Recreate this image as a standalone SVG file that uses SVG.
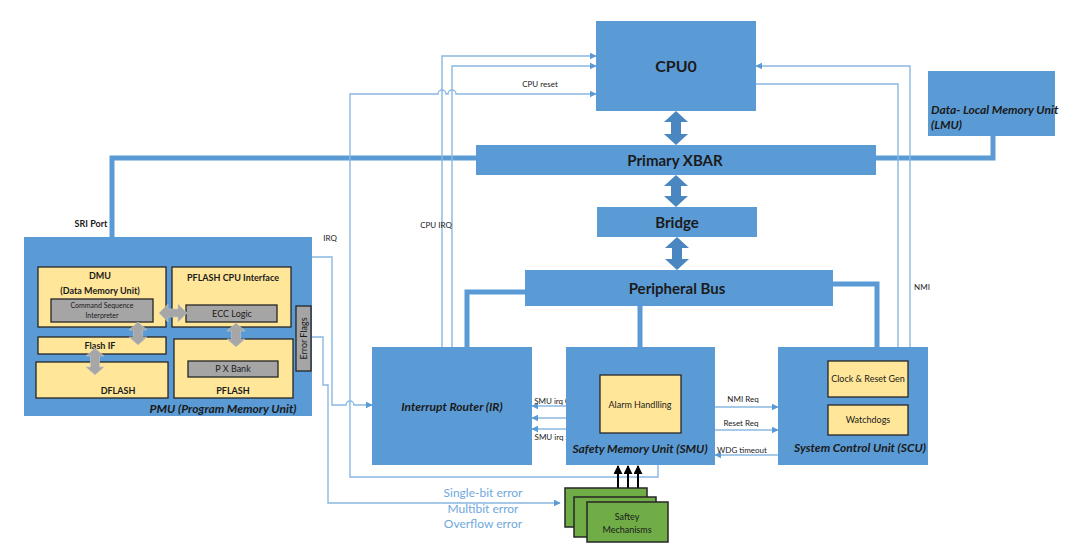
<svg xmlns="http://www.w3.org/2000/svg" width="1080" height="557" viewBox="0 0 1080 557">
  <defs>
    <marker id="ah" viewBox="0 0 10 10" refX="9" refY="5" markerWidth="7" markerHeight="7" orient="auto" markerUnits="userSpaceOnUse">
      <path d="M0,0 L10,5 L0,10 Z" fill="#5b9bd5"/>
    </marker>
    <marker id="ahk" viewBox="0 0 10 10" refX="9" refY="5" markerWidth="9" markerHeight="9" orient="auto" markerUnits="userSpaceOnUse">
      <path d="M0,0 L10,5 L0,10 Z" fill="#000"/>
    </marker>
  </defs>
  <style>
    .blk { fill: #5b9bd5; }
    .bus { fill: none; stroke: #5b9bd5; stroke-width: 5; }
    .sig { fill: none; stroke: #8ab8e2; stroke-width: 1.4; }
    .sigA { fill: none; stroke: #8ab8e2; stroke-width: 1.4; marker-end: url(#ah); }
    .dbl { fill: #4a86c0; }
    .gdbl { fill: #a6a6a6; stroke: #c8c8c8; stroke-width: 0.6; }
    .yel { fill: #ffe699; stroke: #262626; stroke-width: 1.3; }
    .gry { fill: #a5a5a5; stroke: #262626; stroke-width: 1.3; }
    .grn { fill: #70ad47; stroke: #262626; stroke-width: 1.5; }
    text { font-family: Lato, "Liberation Sans", sans-serif; fill: #1a1a1a; text-anchor: middle; }
    .big { font-size: 16px; font-weight: bold; }
    .mid { font-size: 15px; font-weight: bold; }
    .ital { font-size: 12px; font-weight: bold; font-style: italic; }
    .sm { font-size: 9px; font-weight: bold; }
    .xs { font-size: 8px; }
    .tiny { font-size: 7px; }
    .err { font-size: 12px; fill: #6fa8dc; }
  </style>

  <!-- bus connections (thick) -->
  <g id="connectors">
    <path class="bus" d="M476,158 H112 V237"/>
    <path class="bus" d="M993,136 V158 H876"/>
    <path class="bus" d="M525,292 H467 V347"/>
    <path class="bus" d="M640,306 V347"/>
    <path class="bus" d="M833,284 H877 V347"/>

    <!-- CPU reset from SMU back to CPU0 -->
    <path class="sigA" d="M658,465 V477 H350 V94 H438 a4,4 0 0 1 8,0 H448 a4,4 0 0 1 8,0 H596"/>
    <!-- CPU IRQ lines from Interrupt Router -->
    <path class="sigA" d="M442,347 V56 H596"/>
    <path class="sigA" d="M452,347 V66 H596"/>
    <!-- NMI lines from SCU -->
    <path class="sig" d="M898,347 V84 H756"/>
    <path class="sigA" d="M910,347 V66 H756"/>
    <!-- IRQ from PMU to Interrupt Router -->
    <path class="sigA" d="M312,257 H332 V405 H346 a4,4 0 0 1 8,0 H372"/>
    <!-- error flags to safety mechanisms -->
    <path class="sigA" d="M312,337 H323 V385 H328 V503 H560"/>

    <!-- SMU to IR -->
    <path class="sigA" d="M566,406 H532"/>
    <path class="sigA" d="M566,418 H532"/>
    <path class="sigA" d="M566,429 H532"/>
    <!-- SMU to / from SCU -->
    <path class="sigA" d="M715,407 H778"/>
    <path class="sigA" d="M715,430 H778"/>
    <path class="sigA" d="M778,455 H715"/>

    <!-- safety mechanisms to SMU -->
    <path d="M618,497 V466" stroke="#000" stroke-width="2" marker-end="url(#ahk)"/>
    <path d="M628,497 V466" stroke="#000" stroke-width="2" marker-end="url(#ahk)"/>
    <path d="M638,497 V466" stroke="#000" stroke-width="2" marker-end="url(#ahk)"/>

    <!-- bus double arrows -->
    <path class="dbl" d="M676,111 L688,122 L681,122 L681,134 L688,134 L676,145 L664,134 L671,134 L671,122 L664,122 Z"/>
    <path class="dbl" d="M676,175 L688,186 L681,186 L681,196 L688,196 L676,207 L664,196 L671,196 L671,186 L664,186 Z"/>
    <path class="dbl" d="M677,237 L689,248 L682,248 L682,259 L689,259 L677,270 L665,259 L672,259 L672,248 L665,248 Z"/>

    <!-- labels -->
    <text class="xs" x="540" y="87">CPU reset</text>
    <text class="xs" x="436" y="228">CPU IRQ</text>
    <text class="xs" x="922" y="290">NMI</text>
    <text class="xs" x="330" y="241">IRQ</text>
    <text class="sm" x="91" y="227">SRI Port</text>
    <text class="xs" x="552" y="404">SMU irq 0</text>
    <text class="xs" x="552" y="440">SMU irq x</text>
    <text class="xs" x="743" y="402">NMI Req</text>
    <text class="xs" x="741" y="426">Reset Req</text>
    <text class="xs" x="742" y="453">WDG timeout</text>
    <text class="err" x="483" y="497">Single-bit error</text>
    <text class="err" x="483" y="513">Multibit error</text>
    <text class="err" x="483" y="528">Overflow error</text>
  </g>

  <g id="cpu0">
    <rect class="blk" x="596" y="21" width="160" height="90"/>
    <text class="big" x="676" y="72">CPU0</text>
  </g>

  <g id="xbar">
    <rect class="blk" x="476" y="145" width="400" height="30"/>
    <text class="mid" x="675" y="166">Primary XBAR</text>
  </g>

  <g id="lmu">
    <rect class="blk" x="928" y="71" width="127" height="65"/>
    <text class="ital" x="931" y="114" style="text-anchor:start">Data- Local Memory Unit</text>
    <text class="ital" x="931" y="129" style="text-anchor:start">(LMU)</text>
  </g>

  <g id="bridge">
    <rect class="blk" x="597" y="207" width="160" height="30"/>
    <text class="mid" x="677" y="228">Bridge</text>
  </g>

  <g id="peripheral-bus">
    <rect class="blk" x="525" y="270" width="308" height="36"/>
    <text class="mid" x="677" y="294">Peripheral Bus</text>
  </g>

  <g id="ir">
    <rect class="blk" x="372" y="347" width="160" height="118"/>
    <text class="ital" x="452" y="411">Interrupt Router (IR)</text>
  </g>

  <g id="smu">
    <rect class="blk" x="566" y="347" width="149" height="118"/>
    <rect class="yel" x="600" y="375" width="81" height="58"/>
    <text class="xs" x="640" y="408" style="font-size:9px">Alarm Handlling</text>
    <text class="ital" x="640" y="453">Safety Memory Unit (SMU)</text>
  </g>

  <g id="scu">
    <rect class="blk" x="778" y="347" width="150" height="118"/>
    <rect class="yel" x="828" y="361" width="80" height="36"/>
    <text class="xs" x="868" y="382" style="font-size:9px">Clock &amp; Reset Gen</text>
    <rect class="yel" x="828" y="405" width="80" height="30"/>
    <text class="xs" x="868" y="423" style="font-size:9px">Watchdogs</text>
    <text class="ital" x="860" y="452">System Control Unit (SCU)</text>
  </g>

  <g id="safety-mechanisms">
    <rect class="grn" x="565" y="488" width="82" height="39"/>
    <rect class="grn" x="574" y="497" width="82" height="40"/>
    <rect class="grn" x="587" y="502" width="81" height="40"/>
    <text class="xs" x="627" y="520" style="font-size:9px">Saftey</text>
    <text class="xs" x="627" y="533" style="font-size:9px">Mechanisms</text>
  </g>

  <g id="pmu">
    <rect class="blk" x="24" y="237" width="288" height="179"/>
    <!-- DMU -->
    <rect class="yel" x="38" y="267" width="128" height="60"/>
    <text class="xs" x="100" y="279" style="font-size:9px;font-weight:bold">DMU</text>
    <text class="xs" x="100" y="294" style="font-size:9px;font-weight:bold">(Data Memory Unit)</text>
    <rect class="gry" x="51" y="299" width="102" height="23"/>
    <text class="tiny" x="102" y="308">Command Sequence</text>
    <text class="tiny" x="102" y="318">Interpreter</text>
    <!-- PFLASH CPU interface -->
    <rect class="yel" x="172" y="267" width="119" height="60"/>
    <text class="xs" x="233" y="281" style="font-size:9px;font-weight:bold">PFLASH CPU Interface</text>
    <rect class="gry" x="186" y="305" width="91" height="17"/>
    <text class="xs" x="232" y="317" style="font-size:9px">ECC Logic</text>
    <!-- Flash IF -->
    <rect class="yel" x="38" y="337" width="128" height="17"/>
    <text class="xs" x="100" y="349" style="font-size:9px;font-weight:bold">Flash IF</text>
    <!-- DFLASH -->
    <rect class="yel" x="36" y="362" width="132" height="36"/>
    <text class="xs" x="118" y="394" style="font-size:9px;font-weight:bold">DFLASH</text>
    <!-- PFLASH -->
    <rect class="yel" x="174" y="339" width="119" height="59"/>
    <rect class="gry" x="188" y="361" width="90" height="16"/>
    <text class="xs" x="233" y="372" style="font-size:9px">P X Bank</text>
    <text class="xs" x="233" y="394" style="font-size:9px;font-weight:bold">PFLASH</text>
    <!-- Error Flags -->
    <rect class="gry" x="296" y="306" width="15" height="65"/>
    <text class="xs" x="0" y="0" style="font-size:9px" transform="translate(306.5,338.5) rotate(-90)">Error Flags</text>
    <!-- internal double arrows -->
    <path class="gdbl" d="M159,313 L168,304 L168,309 L178,309 L178,304 L187,313 L178,322 L178,317 L168,317 L168,322 Z"/>
    <path class="gdbl" d="M138,322 L147,330 L142.5,330 L142.5,337 L147,337 L138,345 L129,337 L133.5,337 L133.5,330 L129,330 Z"/>
    <path class="gdbl" d="M95,348 L104,356 L99.5,356 L99.5,367 L104,367 L95,375 L86,367 L90.5,367 L90.5,356 L86,356 Z"/>
    <path class="gdbl" d="M236,323 L245,331 L240.5,331 L240.5,339 L245,339 L236,347 L227,339 L231.5,339 L231.5,331 L227,331 Z"/>
    <text class="ital" x="223" y="413">PMU (Program Memory Unit)</text>
  </g>
</svg>
